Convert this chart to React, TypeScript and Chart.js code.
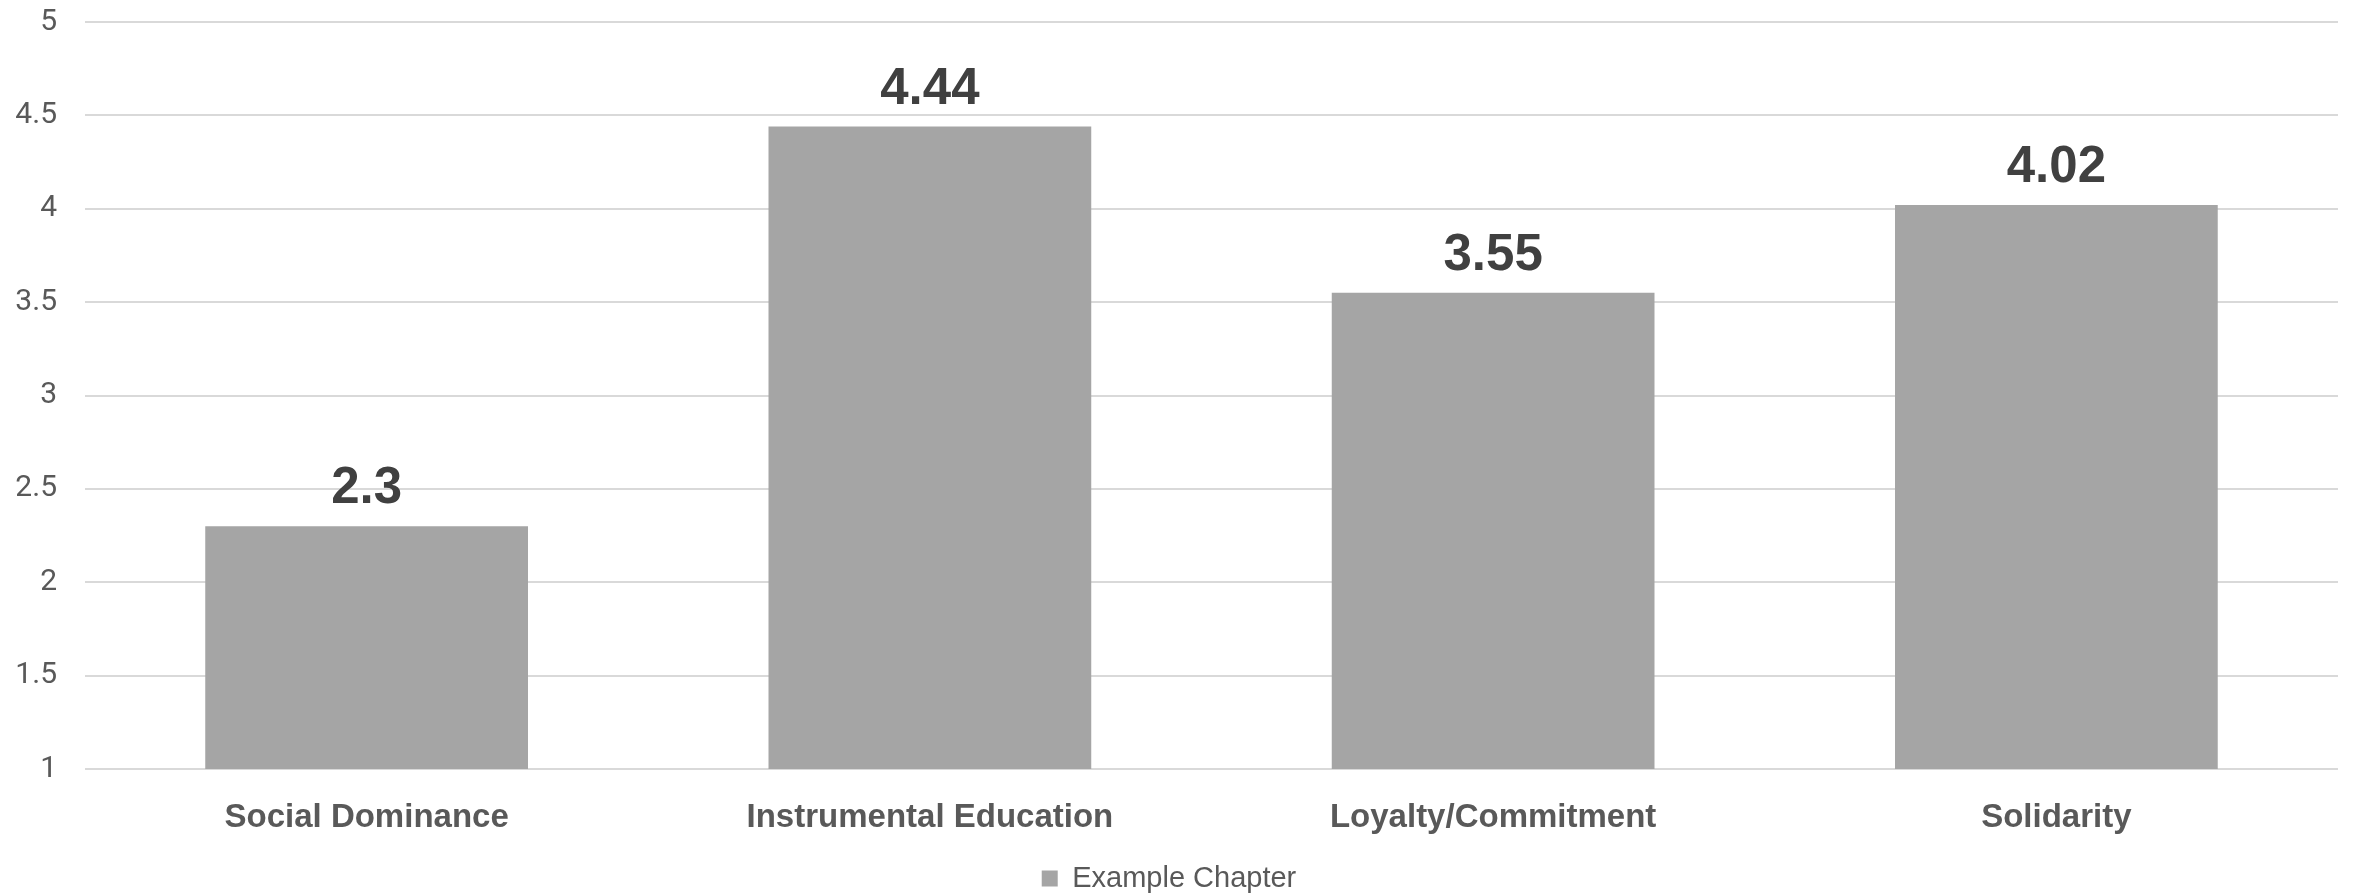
import React, { useEffect, useRef } from "react";
import { Chart, registerables } from "chart.js";

Chart.register(...registerables);

const categories = [
  "Social Dominance",
  "Instrumental Education",
  "Loyalty/Commitment",
  "Solidarity",
];
const seriesName = "Example Chapter";
const seriesValues = [2.3, 4.44, 3.55, 4.02];
const yMin = 1;
const yMax = 5;
const yStep = 0.5;

const BAR_COLOR = "#a5a5a5";
const GRID_COLOR = "#d9d9d9";
const TEXT_COLOR = "#595959";
const VALUE_COLOR = "#404040";
const SANS = "'Liberation Sans', Arial, sans-serif";

// Prints each bar's value just above its top edge.
const valueLabels = {
  id: "valueLabels",
  afterDatasetsDraw(chart: any) {
    const { ctx } = chart;
    const meta = chart.getDatasetMeta(0);
    const data = chart.data.datasets[0].data as number[];
    ctx.save();
    ctx.font = `bold 51px ${SANS}`;
    ctx.fillStyle = VALUE_COLOR;
    ctx.textAlign = "center";
    ctx.textBaseline = "alphabetic";
    meta.data.forEach((bar: any, i: number) => {
      ctx.fillText(String(data[i]), bar.x, bar.y - 23);
    });
    ctx.restore();
  },
};

export default function App() {
  const canvasRef = useRef<HTMLCanvasElement | null>(null);

  useEffect(() => {
    if (!canvasRef.current) return;
    const chart = new Chart(canvasRef.current, {
      type: "bar",
      data: {
        labels: categories,
        datasets: [
          {
            label: seriesName,
            data: seriesValues,
            backgroundColor: BAR_COLOR,
            borderWidth: 0,
            barPercentage: 0.573,
            categoryPercentage: 1,
          },
        ],
      },
      options: {
        animation: false,
        responsive: true,
        maintainAspectRatio: false,
        layout: { padding: { top: 22, right: 16, left: 0, bottom: 0 } },
        plugins: {
          tooltip: { enabled: false },
          legend: {
            position: "bottom",
            labels: {
              boxWidth: 16,
              boxHeight: 16,
              padding: 10,
              color: TEXT_COLOR,
              font: { family: SANS, size: 29 },
            },
          },
        },
        scales: {
          x: {
            grid: { display: false, drawTicks: false },
            border: { display: false },
            ticks: {
              color: TEXT_COLOR,
              padding: 29,
              maxRotation: 0,
              font: { family: SANS, size: 33, weight: "bold" },
            },
            afterFit(scale: any) {
              scale.height = 85;
            },
          },
          y: {
            min: yMin,
            max: yMax,
            grid: {
              color: GRID_COLOR,
              lineWidth: 2,
              drawTicks: true,
              tickLength: 24,
              tickColor: "rgba(0,0,0,0)",
            },
            border: { display: false },
            ticks: {
              stepSize: yStep,
              color: TEXT_COLOR,
              padding: 4,
              font: { family: "Roboto, sans-serif", size: 30 },
              callback: (value: any) => String(Number(value)),
            },
            afterFit(scale: any) {
              scale.width = 85;
            },
          },
        },
      },
      plugins: [valueLabels],
    });
    return () => chart.destroy();
  }, []);

  return (
    <div
      style={{
        position: "absolute",
        left: 0,
        top: 0,
        width: 2354,
        height: 895,
        overflow: "hidden",
        background: "#ffffff",
      }}
    >
      <div style={{ position: "relative", width: 2354, height: 903 }}>
        <canvas ref={canvasRef} />
      </div>
    </div>
  );
}
